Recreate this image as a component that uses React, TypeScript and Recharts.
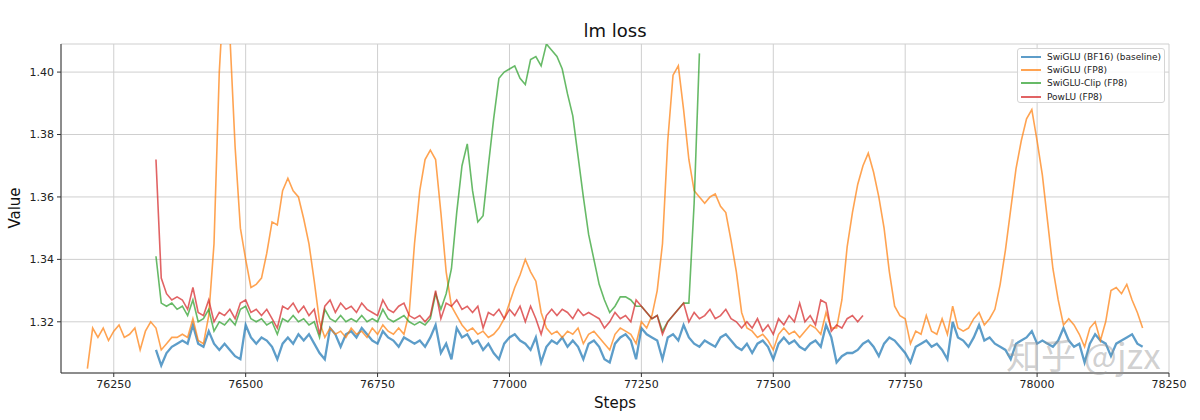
import { CartesianGrid, Line, LineChart, XAxis, YAxis } from "recharts"

document.body.style.margin = "0"

const STEP = 10
const xDomain = [76150, 78250]
const yDomain = [1.3036, 1.409]
const xTicks = [76250, 76500, 76750, 77000, 77250, 77500, 77750, 78000, 78250]
const yTicks = [1.32, 1.34, 1.36, 1.38, 1.4]

// one value every 10 steps, each row = 100 steps
const baselineStart = 76330
const baseline = [
  1.311, 1.306, 1.310, 1.312, 1.313, 1.314, 1.313, 1.319, 1.313, 1.312,
  1.317, 1.313, 1.311, 1.313, 1.311, 1.309, 1.308, 1.319, 1.315, 1.313,
  1.315, 1.314, 1.312, 1.308, 1.313, 1.315, 1.313, 1.316, 1.314, 1.316,
  1.313, 1.310, 1.308, 1.318, 1.316, 1.312, 1.316, 1.317, 1.315, 1.318,
  1.316, 1.314, 1.313, 1.317, 1.315, 1.314, 1.312, 1.315, 1.314, 1.313,
  1.314, 1.312, 1.315, 1.319, 1.310, 1.313, 1.308, 1.318, 1.315, 1.316,
  1.313, 1.314, 1.311, 1.313, 1.310, 1.308, 1.313, 1.315, 1.316, 1.314,
  1.313, 1.311, 1.315, 1.307, 1.312, 1.314, 1.313, 1.315, 1.312, 1.314,
  1.312, 1.308, 1.313, 1.314, 1.312, 1.308, 1.307, 1.313, 1.315, 1.316,
  1.314, 1.308, 1.318, 1.316, 1.315, 1.314, 1.308, 1.315, 1.316, 1.314,
  1.319, 1.315, 1.313, 1.312, 1.314, 1.313, 1.312, 1.315, 1.316, 1.314,
  1.312, 1.311, 1.313, 1.310, 1.313, 1.314, 1.312, 1.308, 1.313, 1.315,
  1.313, 1.314, 1.312, 1.311, 1.313, 1.314, 1.312, 1.319, 1.315, 1.307,
  1.309, 1.310, 1.310, 1.311, 1.313, 1.314, 1.312, 1.309, 1.313, 1.315,
  1.314, 1.312, 1.310, 1.307, 1.312, 1.313, 1.314, 1.312, 1.313, 1.311,
  1.308, 1.320, 1.315, 1.314, 1.312, 1.315, 1.319, 1.314, 1.315, 1.313,
  1.312, 1.311, 1.308, 1.313, 1.314, 1.315, 1.317, 1.313, 1.314, 1.313,
  1.312, 1.314, 1.318, 1.314, 1.312, 1.313, 1.307, 1.313, 1.316, 1.314,
  1.313, 1.309, 1.313, 1.314, 1.315, 1.316, 1.313, 1.312,
]

const swigluFp8Start = 76200
const swigluFp8 = [
  1.305, 1.318, 1.315, 1.318, 1.314, 1.317, 1.319, 1.315, 1.316, 1.318,
  1.311, 1.317, 1.320, 1.318, 1.311, 1.313, 1.315, 1.315, 1.316, 1.315,
  1.321, 1.314, 1.313, 1.322, 1.345, 1.400, 1.430, 1.412, 1.376, 1.350,
  1.340, 1.331, 1.332, 1.334, 1.342, 1.352, 1.351, 1.362, 1.366, 1.362,
  1.360, 1.353, 1.345, 1.333, 1.320, 1.315, 1.318, 1.316, 1.317, 1.315,
  1.318, 1.316, 1.317, 1.315, 1.318, 1.316, 1.319, 1.317, 1.316, 1.318,
  1.316, 1.323, 1.345, 1.362, 1.372, 1.375, 1.372, 1.355, 1.336, 1.325,
  1.322, 1.319, 1.317, 1.318, 1.316, 1.317, 1.315, 1.316, 1.318, 1.321,
  1.326, 1.331, 1.335, 1.340, 1.336, 1.333, 1.323, 1.318, 1.316, 1.317,
  1.315, 1.317, 1.316, 1.318, 1.313, 1.316, 1.317, 1.315, 1.313, 1.311,
  1.316, 1.318, 1.317, 1.316, 1.313, 1.320, 1.318, 1.322, 1.330, 1.345,
  1.378, 1.399, 1.402, 1.388, 1.372, 1.362, 1.360, 1.358, 1.360, 1.361,
  1.357, 1.355, 1.346, 1.336, 1.323, 1.318, 1.317, 1.315, 1.316, 1.314,
  1.311, 1.316, 1.318, 1.316, 1.317, 1.315, 1.317, 1.319, 1.318, 1.316,
  1.323, 1.318, 1.318, 1.327, 1.344, 1.355, 1.364, 1.370, 1.374, 1.368,
  1.360, 1.350, 1.336, 1.325, 1.322, 1.321, 1.313, 1.317, 1.316, 1.322,
  1.317, 1.316, 1.321, 1.316, 1.325, 1.318, 1.317, 1.318, 1.321, 1.323,
  1.319, 1.321, 1.324, 1.332, 1.343, 1.356, 1.369, 1.378, 1.385, 1.388,
  1.378, 1.367, 1.352, 1.337, 1.327, 1.319, 1.321, 1.319, 1.316, 1.312,
  1.318, 1.320, 1.314, 1.320, 1.330, 1.331, 1.329, 1.332, 1.327, 1.323,
  1.318,
]

const swigluClipStart = 76330
const swigluClip = [
  1.341, 1.326, 1.325, 1.326, 1.324, 1.325, 1.322, 1.327, 1.320, 1.321,
  1.324, 1.317, 1.320, 1.319, 1.321, 1.319, 1.324, 1.325, 1.321, 1.320,
  1.321, 1.319, 1.320, 1.316, 1.321, 1.320, 1.322, 1.320, 1.321, 1.319,
  1.320, 1.315, 1.324, 1.321, 1.320, 1.322, 1.320, 1.321, 1.320, 1.322,
  1.320, 1.321, 1.320, 1.324, 1.321, 1.320, 1.321, 1.322, 1.320, 1.319,
  1.320, 1.319, 1.321, 1.329, 1.324, 1.329, 1.337, 1.355, 1.370, 1.377,
  1.362, 1.352, 1.354, 1.370, 1.385, 1.398, 1.400, 1.401, 1.402, 1.398,
  1.396, 1.404, 1.405, 1.402, 1.409, 1.407, 1.405, 1.401, 1.393, 1.386,
  1.373, 1.360, 1.348, 1.340, 1.332, 1.327, 1.323, 1.325, 1.328, 1.328,
  1.327, 1.325, 1.325, 1.323, 1.321, 1.322, 1.317, 1.320, 1.322, 1.324,
  1.326, 1.326, 1.358, 1.406,
]

const powluStart = 76330
const powlu = [
  1.372, 1.334, 1.329, 1.327, 1.328, 1.327, 1.324, 1.331, 1.323, 1.322,
  1.327, 1.320, 1.323, 1.322, 1.324, 1.321, 1.326, 1.327, 1.323, 1.324,
  1.322, 1.324, 1.321, 1.318, 1.325, 1.324, 1.326, 1.323, 1.325, 1.322,
  1.324, 1.316, 1.325, 1.327, 1.323, 1.326, 1.324, 1.325, 1.323, 1.326,
  1.324, 1.323, 1.322, 1.327, 1.324, 1.323, 1.325, 1.326, 1.322, 1.321,
  1.322, 1.320, 1.322, 1.330, 1.321, 1.326, 1.325, 1.327, 1.324, 1.325,
  1.323, 1.325, 1.318, 1.323, 1.322, 1.324, 1.321, 1.324, 1.322, 1.325,
  1.320, 1.325, 1.321, 1.316, 1.322, 1.324, 1.322, 1.324, 1.323, 1.321,
  1.324, 1.322, 1.323, 1.322, 1.321, 1.318, 1.320, 1.323, 1.321, 1.322,
  1.320, 1.327, 1.325, 1.323, 1.321, 1.322, 1.316, 1.320, 1.322, 1.324,
  1.326, 1.320, 1.323, 1.321, 1.322, 1.324, 1.321, 1.322, 1.324, 1.321,
  1.320, 1.318, 1.320, 1.318, 1.321, 1.317, 1.319, 1.316, 1.321, 1.319,
  1.322, 1.320, 1.326, 1.320, 1.322, 1.319, 1.327, 1.326, 1.317, 1.319,
  1.318, 1.321, 1.322, 1.320, 1.322,
]

const toPoints = (start: number, values: number[]) =>
  values.map((value, i) => ({ step: start + i * STEP, value }))

const series = [
  { name: "SwiGLU (BF16) (baseline)", color: "#1f77b4", width: 2.3, points: toPoints(baselineStart, baseline) },
  { name: "SwiGLU (FP8)", color: "#ff7f0e", width: 1.6, points: toPoints(swigluFp8Start, swigluFp8) },
  { name: "SwiGLU-Clip (FP8)", color: "#2ca02c", width: 1.6, points: toPoints(swigluClipStart, swigluClip) },
  { name: "PowLU (FP8)", color: "#d62728", width: 1.6, points: toPoints(powluStart, powlu) },
]

const font = "'DejaVu Sans', sans-serif"

export default function App() {
  return (
    <div style={{ position: "relative", width: 1200, height: 420, background: "#fff", fontFamily: font }}>
      <LineChart width={1200} height={420} margin={{ top: 44, right: 31, bottom: 17, left: 11 }}>
        <CartesianGrid stroke="#cfcfcf" strokeWidth={1} />
        <XAxis
          type="number"
          dataKey="step"
          domain={xDomain}
          ticks={xTicks}
          allowDataOverflow
          height={30}
          tickSize={4}
          tickMargin={3}
          stroke="#333"
          tick={{ fill: "#222", fontSize: 11, fontFamily: font }}
        />
        <YAxis
          type="number"
          domain={yDomain}
          ticks={yTicks}
          allowDataOverflow
          width={50}
          tickSize={4}
          tickMargin={3}
          stroke="#333"
          tickFormatter={(v: number) => v.toFixed(2)}
          tick={{ fill: "#222", fontSize: 11, fontFamily: font }}
        />
        <XAxis xAxisId="top" orientation="top" type="number" domain={xDomain} height={0} tick={false} tickLine={false} stroke="#333" />
        <YAxis yAxisId="right" orientation="right" type="number" domain={yDomain} width={0} tick={false} tickLine={false} stroke="#333" />
        {series.map((s) => (
          <Line
            key={s.name}
            data={s.points}
            dataKey="value"
            name={s.name}
            type="linear"
            stroke={s.color}
            strokeOpacity={0.72}
            strokeWidth={s.width}
            dot={false}
            isAnimationActive={false}
          />
        ))}
      </LineChart>

      <div style={{ position: "absolute", left: 61, width: 1108, top: 20, textAlign: "center", fontSize: 18, lineHeight: "22px", color: "#111" }}>
        lm loss
      </div>
      <div style={{ position: "absolute", left: 61, width: 1108, top: 394, textAlign: "center", fontSize: 15, lineHeight: "18px", color: "#111" }}>
        Steps
      </div>
      <div
        style={{
          position: "absolute",
          left: 15,
          top: 208,
          fontSize: 15,
          lineHeight: "18px",
          color: "#111",
          transform: "translate(-50%, -50%) rotate(-90deg)",
        }}
      >
        Value
      </div>

      <div
        style={{
          position: "absolute",
          left: 1017,
          top: 48,
          width: 148,
          height: 55,
          border: "1px solid #d5d5d5",
          borderRadius: 3,
          background: "rgba(255,255,255,0.85)",
          boxSizing: "border-box",
        }}
      >
        {series.map((s, i) => (
          <div
            key={s.name}
            style={{ position: "absolute", left: 3, top: 1 + i * 13.4, height: 13, display: "flex", alignItems: "center" }}
          >
            <span style={{ display: "inline-block", width: 20, height: 0, borderTop: `2px solid ${s.color}`, opacity: 0.72 }} />
            <span style={{ marginLeft: 6, fontSize: 9, color: "#222", whiteSpace: "nowrap" }}>{s.name}</span>
          </div>
        ))}
      </div>

      <div
        style={{
          position: "absolute",
          left: 1006,
          top: 333,
          fontSize: 35,
          lineHeight: "42px",
          color: "rgba(150,150,150,0.45)",
          fontFamily: "'Noto Sans CJK SC', sans-serif",
          whiteSpace: "nowrap",
          pointerEvents: "none",
        }}
      >
        知乎 @jzx
      </div>
    </div>
  )
}
